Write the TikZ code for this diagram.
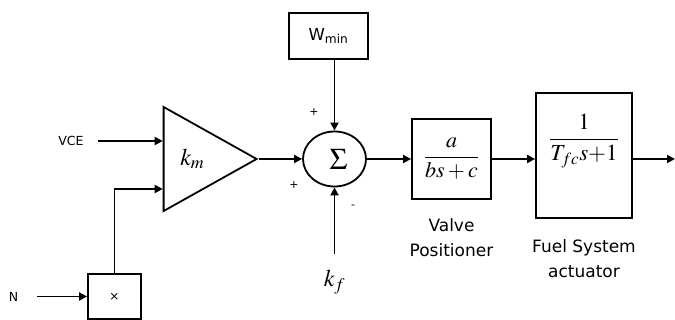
\documentclass[tikz,border=0pt]{standalone}
\usepackage{mathptmx}
\usepackage[no-math]{fontspec}
\setmainfont{DejaVu Sans}
\usetikzlibrary{shapes.geometric,arrows.meta,positioning}

\begin{document}
\begin{tikzpicture}[
  x=1pt, y=1pt,
  line width=1.8pt,
  block/.style={rectangle, draw, inner sep=0pt},
  gain/.style={isosceles triangle, isosceles triangle stretches, draw, inner sep=0pt, minimum width=104pt, minimum height=93pt},
  sumnode/.style={ellipse, draw, inner sep=0pt, minimum width=63pt, minimum height=55pt},
  arrow/.style={-{Triangle[length=8pt,width=8pt]}},
  lbl/.style={font=\fontsize{12.5}{15}\selectfont},
  caption/.style={align=center, font=\fontsize{17}{25}\selectfont},
  sign/.style={font=\fontsize{11}{13}\selectfont, inner sep=0pt},
  tf/.style={font=\fontsize{22}{26}\selectfont}
]
\useasboundingbox (0,0) rectangle (675,320);

% Nodes
\node[sumnode] (sum) at (334.5,161) {\fontsize{30}{32}\selectfont\hspace{8pt}$\Sigma$};
\node[gain, anchor=apex, font=\fontsize{24}{28}\selectfont] (gain) at (259,161) {$k_m$};
\node[block, minimum width=79pt, minimum height=46pt, font=\fontsize{16.5}{20}\selectfont, above of=sum, node distance=123pt, xshift=-6pt] (wmin) {W\textsubscript{min}};
\node[block, tf, minimum width=79pt, minimum height=80pt, right of=sum, node distance=117pt] (valve) {$\displaystyle\frac{a}{bs+c}$};
\node[block, minimum width=96pt, minimum height=125pt, right of=valve, node distance=132.5pt, yshift=3.5pt] (fuel) {};
\node[font=\fontsize{23}{27}\selectfont] (fueltf) at ([yshift=14.5pt]fuel.center) {$\displaystyle\frac{1}{T_{fc}s{+}1}$};
\node[block, minimum width=53pt, minimum height=45pt, font=\fontsize{12}{14}\selectfont] (mult) at (114.5,23.5) {×};
\node[lbl] (vce) at (71,179) {VCE};
\node[lbl, left of=mult, node distance=101pt] (n) {N};
\node[font=\fontsize{24}{28}\selectfont, below of=sum, node distance=123pt] (kf) {$k_f$};
\coordinate (out) at (675,161);

% Signs
\node[sign] (plustop) at ([shift={(-20.5,47)}]sum.center) {+};
\node[sign] (plusleft) at ([shift={(-40.5,-26)}]sum.center) {+};
\node[sign] (minus) at ([shift={(18.5,-48)}]sum.center) {-};

% Captions
\node[caption, below=14pt of valve] (valvecap) {Valve\\Positioner};
\node[caption, below=16pt of fuel] (fuelcap) {Fuel System\\actuator};

% Arrows
\draw[arrow] ([xshift=10pt]vce.east) -- (gain.west |- vce);
\draw[arrow] ([xshift=15pt]n.east) -- (mult);
\draw[arrow] (mult.north) |- ([yshift=-30pt]gain.west);
\draw[arrow] (gain.apex) -- (sum);
\draw[arrow] (wmin.south -| sum.north) -- (sum.north);
\draw[arrow] (kf.north) ++(0,12) -- (sum.south);
\draw[arrow] (sum) -- (valve);
\draw[arrow] (valve.east) -- (valve.east -| fuel.west);
\draw[arrow] (valve.east -| fuel.east) -- (out);

\end{tikzpicture}
\end{document}
